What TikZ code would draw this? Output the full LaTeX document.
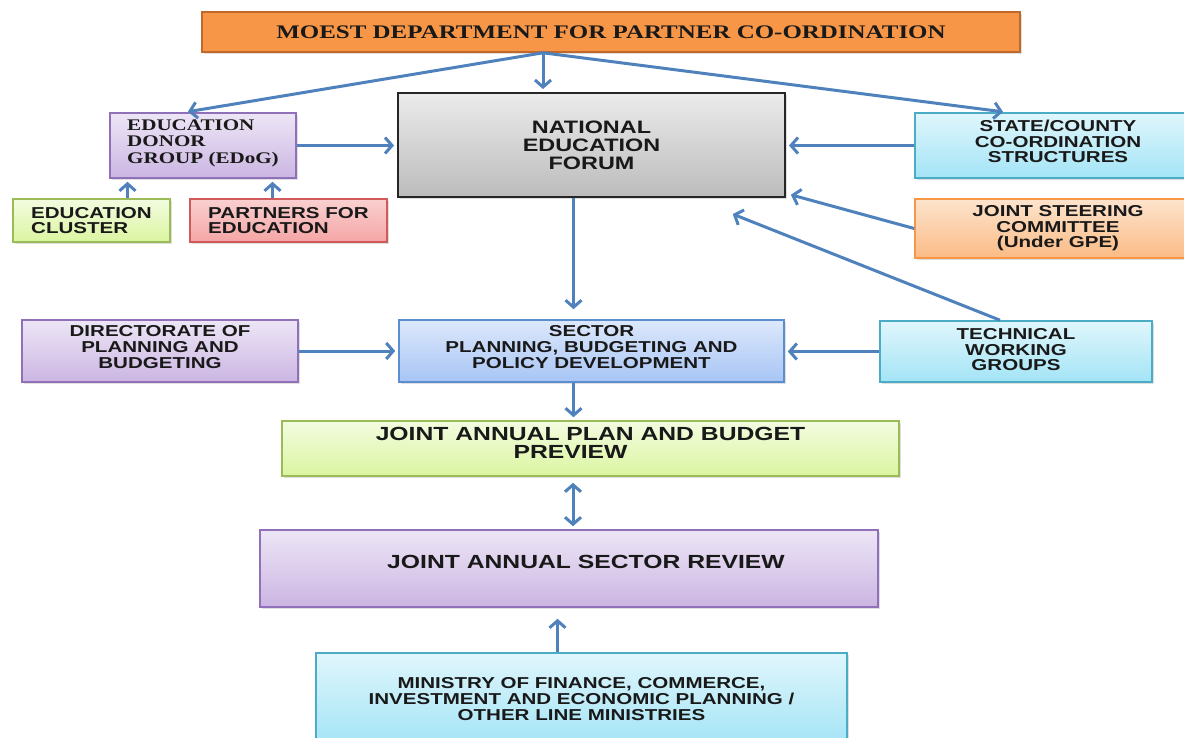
\documentclass[tikz,border=0pt]{standalone}
\usepackage{fontspec}
\usetikzlibrary{arrows.meta,shadows}
\newfontfamily\boxfont[FakeStretch=1.3]{Liberation Sans}
\newfontfamily\serfont[FakeStretch=1.3]{Liberation Serif}
\newcommand\dpad[1]{\rule[-#1]{0pt}{0pt}}

\definecolor{flowblue}{HTML}{4F81BD}
\definecolor{orangeline}{HTML}{C0692B}
\definecolor{orangefill}{HTML}{F79646}
\definecolor{purpleline}{HTML}{9070B8}
\definecolor{purpletop}{HTML}{EDE6F6}
\definecolor{purplebot}{HTML}{CBB5E2}
\definecolor{greenline}{HTML}{9BBB59}
\definecolor{greentop}{HTML}{F3FCE0}
\definecolor{greenbot}{HTML}{DBF5A0}
\definecolor{pinkline}{HTML}{D05A5A}
\definecolor{pinktop}{HTML}{FAD0D0}
\definecolor{pinkbot}{HTML}{F5A5A5}
\definecolor{cyanline}{HTML}{4BACC6}
\definecolor{cyantop}{HTML}{E0F6FC}
\definecolor{cyanbot}{HTML}{A3E4F6}
\definecolor{peachtop}{HTML}{FDE4CD}
\definecolor{peachbot}{HTML}{FBBB85}
\definecolor{blueline}{HTML}{5B8ED0}
\definecolor{bluetop}{HTML}{DDE8FB}
\definecolor{bluebot}{HTML}{A7C5F5}
\definecolor{graytop}{HTML}{EBEBEB}
\definecolor{graybot}{HTML}{BCBCBC}

\tikzset{
  box/.style={rectangle, inner sep=0pt, line width=0.8pt, align=center,
    text=black!90, font=\boxfont\bfseries\fontsize{7.9}{7.8}\selectfont,
    drop shadow={shadow xshift=1pt, shadow yshift=-1pt, opacity=.25}},
  purplebox/.style={box, draw=purpleline, top color=purpletop, bottom color=purplebot},
  greenbox/.style={box, draw=greenline, top color=greentop, bottom color=greenbot},
  pinkbox/.style={box, draw=pinkline, top color=pinktop, bottom color=pinkbot},
  cyanbox/.style={box, draw=cyanline, top color=cyantop, bottom color=cyanbot},
  peachbox/.style={box, draw=orangefill, top color=peachtop, bottom color=peachbot},
  bluebox/.style={box, draw=blueline, top color=bluetop, bottom color=bluebot},
  flow/.style={draw=flowblue, line width=1.5pt, shorten >=1.5pt,
    -{Straight Barb[length=3.5pt,width=8pt]}}
}

\begin{document}
\begin{tikzpicture}[x=0.5pt, y=-0.5pt]
  \useasboundingbox (0,0) rectangle (1184,738);

  \node[box, draw=orangeline, fill=orangefill, minimum width=409pt, minimum height=20pt,
    font=\serfont\bfseries\fontsize{9.6}{10}\selectfont] (moest) at (611,32)
    {MOEST DEPARTMENT FOR PARTNER CO-ORDINATION};
  \node[box, draw=black!85, top color=graytop, bottom color=graybot, line width=1pt,
    minimum width=193.5pt, minimum height=52pt,
    font=\boxfont\bfseries\fontsize{9}{9}\selectfont] (nef) at (591.5,145)
    {NATIONAL\\EDUCATION\\FORUM};
  \node[purplebox, align=left, minimum width=93pt, minimum height=32.5pt,
    font=\serfont\bfseries\fontsize{8.1}{8.25}\selectfont] (edog) at (203,145.5)
    {EDUCATION\\DONOR\\GROUP (ED\textsc{o}G)\dpad{4pt}};
  \node[greenbox, align=left, minimum width=78.5pt, minimum height=21.5pt] (cluster) at (91.5,220.5)
    {EDUCATION\\CLUSTER};
  \node[pinkbox, align=left, minimum width=98.5pt, minimum height=21.5pt] (partners) at (288.5,220.5)
    {PARTNERS FOR\\EDUCATION};
  \node[cyanbox, minimum width=143pt, minimum height=32.5pt] (state) at (1058,145.5)
    {STATE/COUNTY\\CO-ORDINATION\\STRUCTURES\dpad{4pt}};
  \node[peachbox, minimum width=143pt, minimum height=29.5pt] (jsc) at (1058,228.5)
    {JOINT STEERING\\COMMITTEE\\(Under GPE)};
  \node[purplebox, minimum width=138pt, minimum height=31pt] (dir) at (160,351)
    {DIRECTORATE OF\\PLANNING AND\\BUDGETING\dpad{4pt}};
  \node[bluebox, minimum width=192.5pt, minimum height=31pt] (sector) at (591.5,351)
    {SECTOR\\PLANNING, BUDGETING AND\\POLICY DEVELOPMENT\dpad{4pt}};
  \node[cyanbox, minimum width=136pt, minimum height=30.5pt] (twg) at (1016,351.5)
    {TECHNICAL\\WORKING\\GROUPS\dpad{2pt}};
  \node[greenbox, minimum width=308.5pt, minimum height=27.5pt,
    font=\boxfont\bfseries\fontsize{9.5}{9}\selectfont] (japb) at (590.5,448.5)
    {JOINT ANNUAL PLAN AND BUDGET\\PREVIEW\hspace*{20pt}\dpad{5.5pt}};
  \node[purplebox, minimum width=309pt, minimum height=38.5pt,
    font=\boxfont\bfseries\fontsize{9.5}{9}\selectfont] (jasr) at (569,568.5)
    {\hspace*{17pt}JOINT ANNUAL SECTOR REVIEW\dpad{6.5pt}};
  \node[cyanbox, minimum width=265.5pt, minimum height=46pt] (ministry) at (581.5,699)
    {MINISTRY OF FINANCE, COMMERCE,\\INVESTMENT AND ECONOMIC PLANNING /\\OTHER LINE MINISTRIES};

  \coordinate (hub) at ([xshift=-34pt]moest.south);
  \coordinate (twg-end) at (730,213);

  \draw[flow] (hub) -- (hub |- nef.north);
  \draw[flow] (hub) -- ([xshift=-9pt]edog.north);
  \draw[flow] (hub) -- ([xshift=-26pt]state.north);
  \draw[flow] (edog.east) -- (nef.west |- edog.east);
  \draw[flow] (state.west) -- (nef.east |- state.west);
  \draw[flow] (jsc.west) -- ([shift={(1pt,2pt)}]nef.south east);
  \draw[flow] ([xshift=-8pt]twg.north) -- (twg-end);
  \draw[flow] ([xshift=18pt]cluster.north) -- ([xshift=18pt]cluster.north |- edog.south);
  \draw[flow] ([xshift=-8pt]partners.north) -- ([xshift=-8pt]partners.north |- edog.south);
  \draw[flow, shorten >=5pt] ([xshift=-9pt]nef.south) -- ([xshift=-9pt]sector.north);
  \draw[flow] (dir.east) -- (sector.west);
  \draw[flow] (twg.west) -- (sector.east |- twg.west);
  \draw[flow] ([xshift=-9pt]sector.south) -- ([xshift=-9pt]sector.south |- japb.north);
  \draw[flow, shorten <=3pt, {Straight Barb[length=3.5pt,width=8pt]}-{Straight Barb[length=3.5pt,width=8pt]}]
    ([xshift=2pt]jasr.north |- japb.south) -- ([xshift=2pt]jasr.north);
  \draw[flow, shorten >=5.5pt] ([xshift=-12pt]ministry.north) -- ([xshift=-12pt]ministry.north |- jasr.south);
\end{tikzpicture}
\end{document}
